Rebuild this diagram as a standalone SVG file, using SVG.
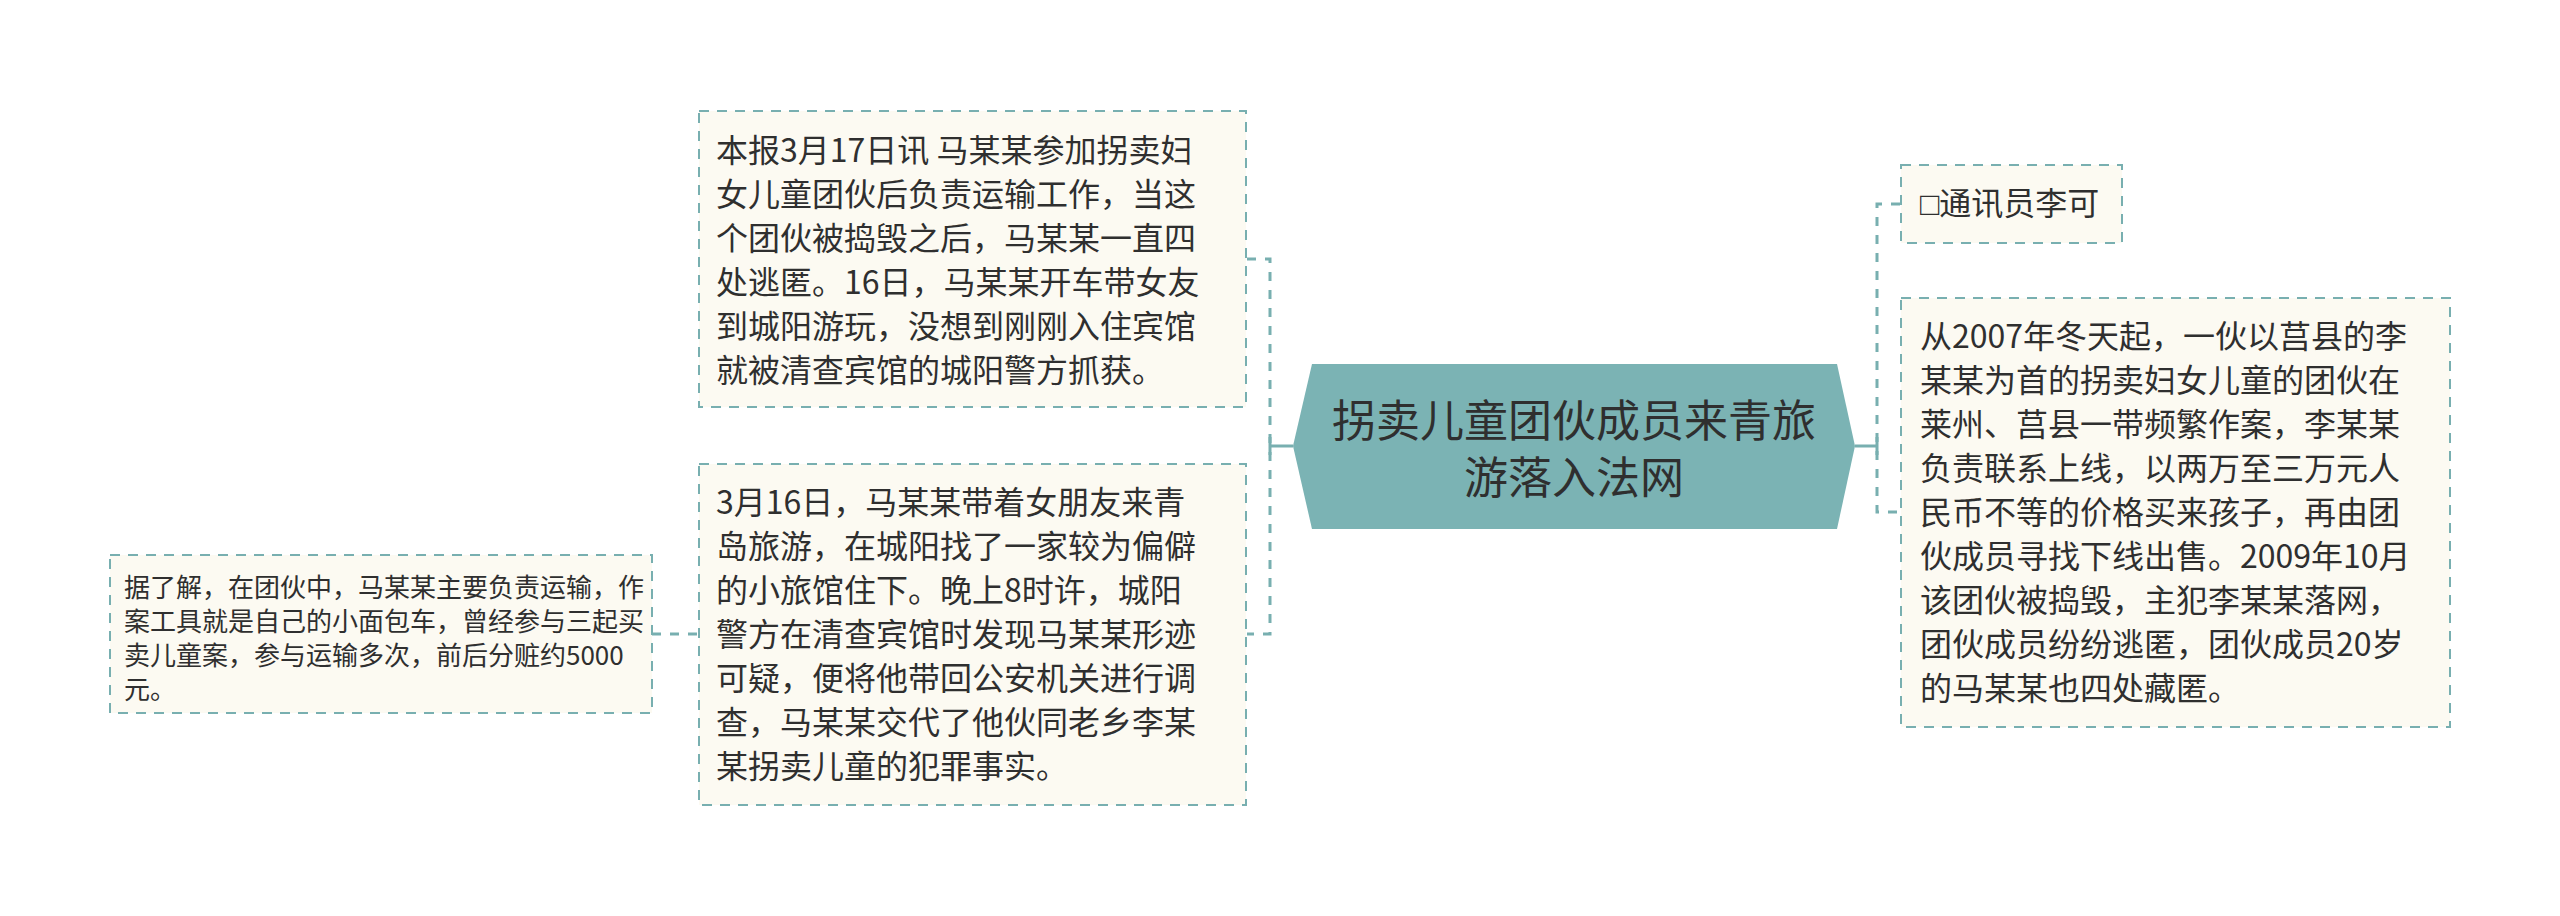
<svg xmlns="http://www.w3.org/2000/svg" width="2560" height="916" viewBox="0 0 2560 916">
<style>
.bg{fill:#ffffff}
.box{fill:#fcfaf2;stroke:#78afb0;stroke-width:2;stroke-dasharray:10 8}
.center{fill:#7bb3b4;stroke:none}
.t{font-family:"Noto Sans CJK SC","Noto Sans",sans-serif;font-size:32px;fill:#2f2f2f}
.ts{font-family:"Noto Sans CJK SC","Noto Sans",sans-serif;font-size:26px;fill:#2f2f2f}
.tc{font-family:"Noto Sans CJK SC","Noto Sans",sans-serif;font-size:44px;fill:#2f2f2f;text-anchor:middle}
.sq{font-family:"Liberation Sans",sans-serif}
.conn{fill:none;stroke:#78afb0;stroke-width:3;stroke-dasharray:9 9}
.solid{fill:none;stroke:#78afb0;stroke-width:3}
</style>
<rect class="bg" x="0" y="0" width="2560" height="916"/>
<g id="connectors">
<path class="solid" d="M1293,446 H1270 M1270,437 V455"/>
<path class="solid" d="M1855,446 H1877 M1877,437 V455"/>
<path class="conn" d="M1247,259 H1270 V634 H1247"/>
<path class="conn" d="M1900,204 H1877 V512 H1900"/>
<path class="conn" d="M652,634 H699"/>
</g>
<g id="center">
<polygon class="center" points="1293,446 1312,364 1837,364 1855,446 1837,529 1312,529"/>
<text class="tc" x="1574" y="437">拐卖儿童团伙成员来青旅</text>
<text class="tc" x="1574" y="494">游落入法网</text>
</g>
<g id="node1">
<rect class="box" x="699" y="111" width="547" height="296"/>
<text class="t" x="716" y="162">本报3月17日讯 马某某参加拐卖妇</text>
<text class="t" x="716" y="206">女儿童团伙后负责运输工作，当这</text>
<text class="t" x="716" y="250">个团伙被捣毁之后，马某某一直四</text>
<text class="t" x="716" y="294">处逃匿。16日，马某某开车带女友</text>
<text class="t" x="716" y="338">到城阳游玩，没想到刚刚入住宾馆</text>
<text class="t" x="716" y="382">就被清查宾馆的城阳警方抓获。</text>
</g>
<g id="node2">
<rect class="box" x="699" y="464" width="547" height="341"/>
<text class="t" x="716" y="514">3月16日，马某某带着女朋友来青</text>
<text class="t" x="716" y="558">岛旅游，在城阳找了一家较为偏僻</text>
<text class="t" x="716" y="602">的小旅馆住下。晚上8时许，城阳</text>
<text class="t" x="716" y="646">警方在清查宾馆时发现马某某形迹</text>
<text class="t" x="716" y="690">可疑，便将他带回公安机关进行调</text>
<text class="t" x="716" y="734">查，马某某交代了他伙同老乡李某</text>
<text class="t" x="716" y="778">某拐卖儿童的犯罪事实。</text>
</g>
<g id="node3">
<rect class="box" x="110" y="555" width="542" height="158"/>
<text class="ts" x="124" y="597">据了解，在团伙中，马某某主要负责运输，作</text>
<text class="ts" x="124" y="631">案工具就是自己的小面包车，曾经参与三起买</text>
<text class="ts" x="124" y="665">卖儿童案，参与运输多次，前后分赃约5000</text>
<text class="ts" x="124" y="699">元。</text>
</g>
<g id="node4">
<rect class="box" x="1901" y="165" width="221" height="78"/>
<text class="t" x="1920" y="215"><tspan class="sq">□</tspan>通讯员李可</text>
</g>
<g id="node5">
<rect class="box" x="1901" y="298" width="549" height="429"/>
<text class="t" x="1920" y="348">从2007年冬天起，一伙以莒县的李</text>
<text class="t" x="1920" y="392">某某为首的拐卖妇女儿童的团伙在</text>
<text class="t" x="1920" y="436">莱州、莒县一带频繁作案，李某某</text>
<text class="t" x="1920" y="480">负责联系上线，以两万至三万元人</text>
<text class="t" x="1920" y="524">民币不等的价格买来孩子，再由团</text>
<text class="t" x="1920" y="568">伙成员寻找下线出售。2009年10月</text>
<text class="t" x="1920" y="612">该团伙被捣毁，主犯李某某落网，</text>
<text class="t" x="1920" y="656">团伙成员纷纷逃匿，团伙成员20岁</text>
<text class="t" x="1920" y="700">的马某某也四处藏匿。</text>
</g>
</svg>
